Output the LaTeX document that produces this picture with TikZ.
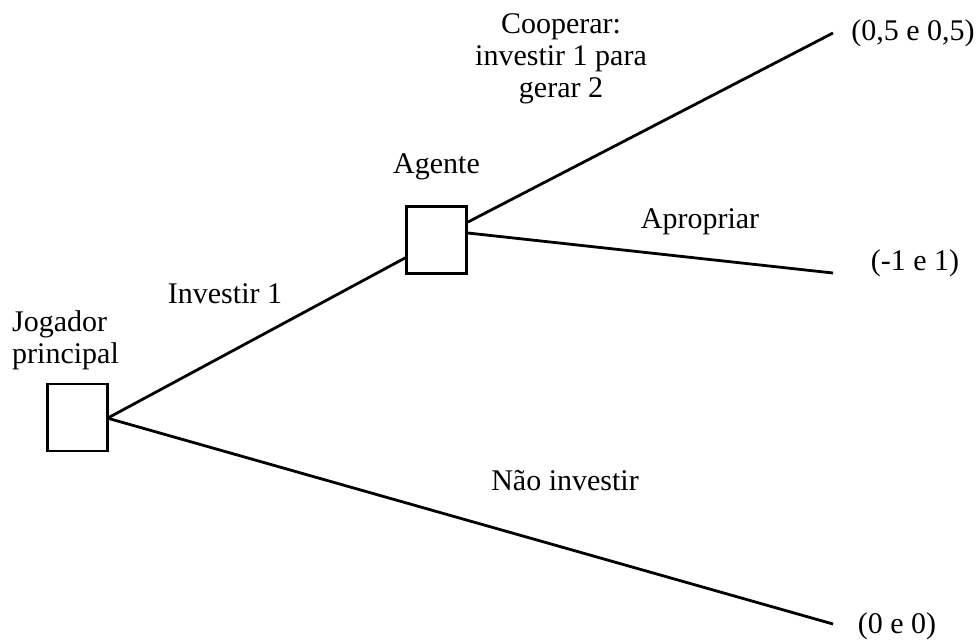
\documentclass[tikz,border=0pt]{standalone}
\usepackage{fontspec}
\setmainfont{Liberation Serif}

\tikzstyle{player}=[draw, line width=2.5pt, minimum width=60pt, minimum height=67pt, inner sep=0pt]
\tikzstyle{move}=[line width=2.8pt]
\tikzstyle{lbl}=[inner sep=0pt, anchor=base, font=\fontsize{30}{32}\selectfont]

\begin{document}
\begin{tikzpicture}[x=1pt, y=-1pt]
    \useasboundingbox (0, 0) rectangle (976, 641);
    \node[player] (jogador) at (77.5, 417.5) {};
    \node[player] (agente) at (436.7, 240) {};
    \coordinate (end1) at (833, 33);
    \coordinate (end2) at (833, 273);
    \coordinate (end3) at (833, 624);
    \draw[move] (jogador.east) to ([yshift=17pt]agente.south west);
    \draw[move] ([yshift=-1pt]jogador.east) to (end3);
    \draw[move] ([yshift=18pt]agente.east) to (end1);
    \draw[move] ([yshift=7pt]agente.east) to (end2);
    \node[lbl, align=center] (cooperar) at (561, 97) {Cooperar:\\investir 1 para\\gerar 2};
    \node[lbl] (agentelbl) at (436.5, 173) {Agente};
    \node[lbl] (apropriar) at (700, 228) {Apropriar};
    \node[lbl] (pay1) at (913, 40) {(0,5 e 0,5)};
    \node[lbl] (pay2) at (915, 270) {(-1 e 1)};
    \node[lbl] (pay3) at (897, 633) {(0 e 0)};
    \node[lbl] (investir) at (225, 303) {Investir 1};
    \node[lbl, anchor=base west, align=left] (jogadorlbl) at (12, 363) {Jogador\\principal};
    \node[lbl] (naoinvestir) at (565, 490) {Não investir};
\end{tikzpicture}
\end{document}
